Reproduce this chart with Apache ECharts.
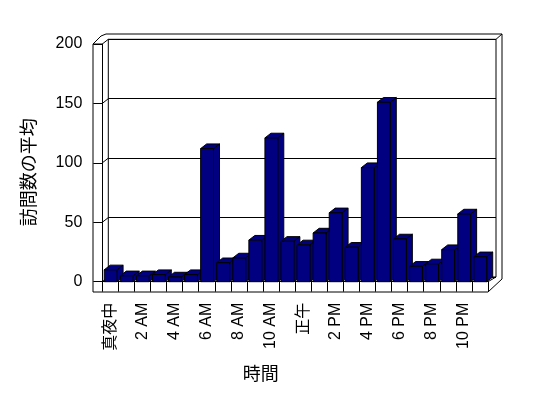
<!DOCTYPE html>
<html><head><meta charset="utf-8">
<script src="https://cdn.jsdelivr.net/npm/echarts@6/dist/echarts.min.js"></script>
<style>html,body{margin:0;padding:0;background:#fff}#c{width:548px;height:398px}</style>
</head><body><div id="c"></div>
<script>
// ---- data ----
const categories = ['真夜中','1 AM','2 AM','3 AM','4 AM','5 AM','6 AM','7 AM','8 AM','9 AM','10 AM','11 AM',
  '正午','1 PM','2 PM','3 PM','4 PM','5 PM','6 PM','7 PM','8 PM','9 PM','10 PM','11 PM'];
const visits = [10,5,5,6,4,6,112,16,20,35,121,34,31,41,58,29,96,151,36,13,15,27,57,21];
const yTicks = [0,50,100,150,200];
const xTitle = '時間';
const yTitle = '訪問数の平均';

// ---- layout ----
const L = 102.3, R = 488, T = 44, B = 281.7;
const DX = 6, DY = -4.7;
const BACK_R = 496;
const FONT = '"Liberation Sans", Arial, "Noto Sans CJK JP", sans-serif';

const chart = echarts.init(document.getElementById('c'), null, {renderer: 'canvas'});

function renderBar(params, api) {
  const x = api.value(0), v = api.value(1);
  const base = api.coord([x, 0]);
  const top = api.coord([x, v]);
  const bw = api.size([1, 0])[0];
  const x0 = base[0] - bw / 2 + bw * 0.12;
  const x1 = x0 + bw * 0.8;
  const dx = bw * 0.373, dy = -bw * 0.29;
  const yb = base[1], yt = top[1];
  const style = {fill: '#000080', stroke: '#000', lineWidth: 1};
  return {
    type: 'group',
    children: [
      {type: 'polygon', shape: {points: [[x1, yb], [x1 + dx, yb + dy], [x1 + dx, yt + dy], [x1, yt]]}, style},
      {type: 'polygon', shape: {points: [[x0, yt], [x1, yt], [x1 + dx, yt + dy], [x0 + dx, yt + dy]]}, style},
      {type: 'rect', shape: {x: x0, y: yt, width: x1 - x0, height: yb - yt}, style}
    ]
  };
}

chart.setOption({
  animation: false,
  backgroundColor: '#fff',
  textStyle: {fontFamily: FONT, color: '#000'},
  grid: [
    {left: L, top: T, width: R - L, height: B - T, containLabel: false},
    {left: L + DX, top: T + DY, width: BACK_R - (L + DX), height: B - T, show: true,
     borderColor: '#000', borderWidth: 1, backgroundColor: 'transparent', containLabel: false}
  ],
  xAxis: [
    {type: 'category', gridIndex: 0, data: categories, boundaryGap: true,
     axisLine: {show: true, lineStyle: {color: '#000', width: 1}},
     axisTick: {show: true, interval: 0, length: 10, lineStyle: {color: '#000'}},
     axisLabel: {interval: 1, rotate: 90, margin: 21, fontSize: 16, color: '#000', fontFamily: FONT},
     name: xTitle, nameLocation: 'middle', nameGap: 84,
     nameTextStyle: {fontSize: 18, color: '#000', fontFamily: FONT, padding: [0, 69, 0, 0]}},
    {type: 'value', gridIndex: 1, show: false, min: 0, max: 1}
  ],
  yAxis: [
    {type: 'value', gridIndex: 0, min: 0, max: 200, interval: 50,
     axisLine: {show: true, lineStyle: {color: '#000', width: 1}},
     axisTick: {show: true, length: 9, lineStyle: {color: '#000'}},
     splitLine: {show: false},
     axisLabel: {margin: 20, fontSize: 16, color: '#000', fontFamily: FONT,
       customValues: yTicks},
     name: yTitle, nameLocation: 'middle', nameGap: 63,
     nameTextStyle: {fontSize: 18, color: '#000', fontFamily: FONT, padding: [0, 19, 0, 0]}},
    {type: 'value', gridIndex: 1, min: 0, max: 200, interval: 50,
     axisLine: {show: false}, axisTick: {show: false}, axisLabel: {show: false},
     splitLine: {show: true, lineStyle: {color: '#000', width: 1}}}
  ],
  series: [
    {type: 'custom', xAxisIndex: 0, yAxisIndex: 0, renderItem: renderBar,
     data: visits.map((v, i) => [i, v]), encode: {x: 0, y: 1}, z: 5}
  ]
});

// frame decoration + wall tick connectors (computed from axes)
const lines = [];
const seg = (pts) => lines.push({type: 'polyline', z: 1, shape: {points: pts},
  style: {stroke: '#000', lineWidth: 1, fill: null}, silent: true});
yTicks.forEach(v => {
  const yf = chart.convertToPixel({yAxisIndex: 0}, v);
  const yb = chart.convertToPixel({yAxisIndex: 1}, v);
  seg([[L, yf], [L + DX, yb]]);
});
seg([[93, 292], [93, T], [101, 36], [106, 34], [502, 34], [502, 279], [R, 292], [93, 292]]);
seg([[93, T], [L, T]]);
seg([[BACK_R, T + DY], [502, 34]]);
seg([[R, B], [BACK_R, B + DY]]);
chart.setOption({graphic: lines});
</script>
</body></html>
